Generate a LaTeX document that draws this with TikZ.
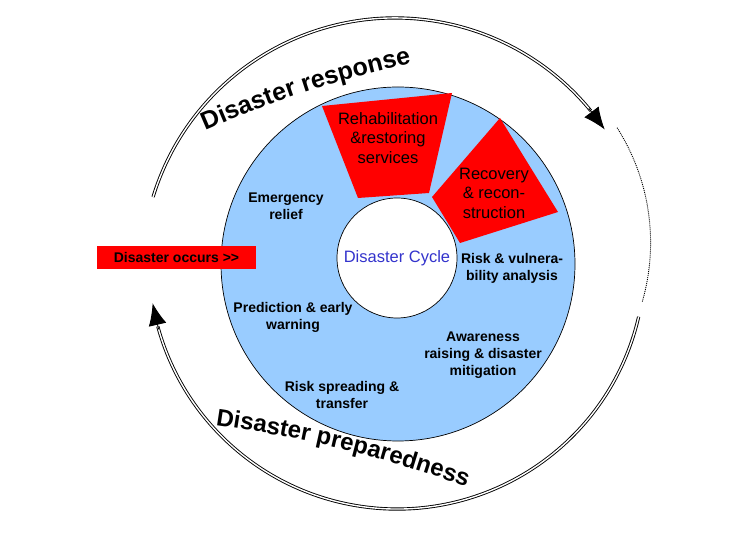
\documentclass[tikz,border=0pt]{standalone}
\usepackage{fontspec}
\setmainfont{Liberation Sans}
\usetikzlibrary{arrows.meta,decorations.text,calc}
\definecolor{diskblue}{RGB}{153,204,255}
\definecolor{cycleblue}{RGB}{51,51,204}
\begin{document}
\begin{tikzpicture}[x=1pt,y=1pt,
  dbl/.style={draw=black, double=white, double distance=1.4pt, line width=0.9pt},
  tipstyle/.style={-{Latex[length=22pt,width=18pt]}, line width=0.9pt},
  lbl/.style={font=\fontsize{14}{17}\selectfont\bfseries, align=center, text=black, inner sep=0pt},
  big/.style={font=\fontsize{16.5}{19.5}\selectfont, align=center, text=black, inner sep=0pt},
  redshape/.style={fill=red, draw=none},
]
\useasboundingbox (0,0) rectangle (734,551);
\fill[white] (0,0) rectangle (734,551);

% centres
\coordinate (DC) at (398,287);
\coordinate (IC) at (397,293);
\coordinate (TC) at (395,280);
\coordinate (BC) at (397,290);
\coordinate (RC) at (436.6,308.3);

% blue disc
\fill[diskblue, draw=black, line width=0.7pt] (DC) circle[radius=177];

% red sectors
\fill[redshape] (322,445) -- (452,458) -- (429,358) -- (358,353) -- cycle;
\fill[redshape] (500,433) -- (558,339) -- (460,308) -- (432,354) -- cycle;

% inner white circle
\node[circle, fill=white, draw=black, line width=0.7pt, minimum size=120pt, inner sep=0pt] (inner) at (IC) {};
\node[font=\fontsize{16.5}{19.5}\selectfont, text=cycleblue, inner sep=0pt] (cycle) at (IC) {Disaster Cycle};

% labels in sectors
\node[big] (rehab) at (388,413) {Rehabilitation\\\&restoring\\services};
\node[big] (recov) at (494,358) {Recovery\\\& recon-\\struction};

% labels on disc
\node[lbl] (emerg) at (286,345) {Emergency\\relief};
\node[lbl] (pred) at (293,234) {Prediction \& early\\warning};
\node[lbl] (spread) at (342,156) {Risk spreading \&\\transfer};
\node[lbl] (aware) at (483,196) {Awareness\\raising \& disaster\\mitigation};
\node[lbl] (vuln) at (512,283) {Risk \& vulnera-\\bility analysis};

% disaster occurs box
\node[fill=red, minimum width=159pt, minimum height=23pt, inner sep=0pt,
      font=\fontsize{14}{16}\selectfont\bfseries, text=black] (occurs) at (176.5,293.5) {Disaster occurs >{}>};

% top arc: disaster response
\coordinate (tstart) at ([shift={(163:253)}]TC);
\coordinate (tpre) at ([shift={(40:253)}]TC);
\coordinate (ttip) at ([shift={(34:253)}]TC);
\draw[dbl] (tstart) arc[start angle=163, end angle=39.3, radius=253];
\draw[tipstyle] (tpre) -- (ttip);

% bottom arc: disaster preparedness
\coordinate (bstart) at ([shift={(-13:248)}]BC);
\coordinate (bpre) at ([shift={(-164:248)}]BC);
\coordinate (btip) at ([shift={(-170.2:248)}]BC);
\draw[dbl] (bstart) arc[start angle=-13, end angle=-164.7, radius=248];
\draw[tipstyle] (bpre) -- (btip);

% dotted arc on the right
\coordinate (dstart) at ([shift={(32.5:214)}]RC);
\draw[line width=0.9pt, dash pattern=on 1pt off 1pt] (dstart) arc[start angle=32.5, end angle=-16, radius=214];

% curved titles
\path[decorate, decoration={text along path, text align=center,
  text={|\fontsize{25}{25}\selectfont\bfseries|Disaster response}}]
  (186.7,411.9) to[out=24, in=-168] (431.6,492.2);
\path[decorate, decoration={text along path, text align=center,
  text={|\fontsize{24}{24}\selectfont\bfseries|Disaster preparedness}}]
  (195.2,128.8) to[out=-8, in=160] (485.8,57.2);
\end{tikzpicture}
\end{document}
